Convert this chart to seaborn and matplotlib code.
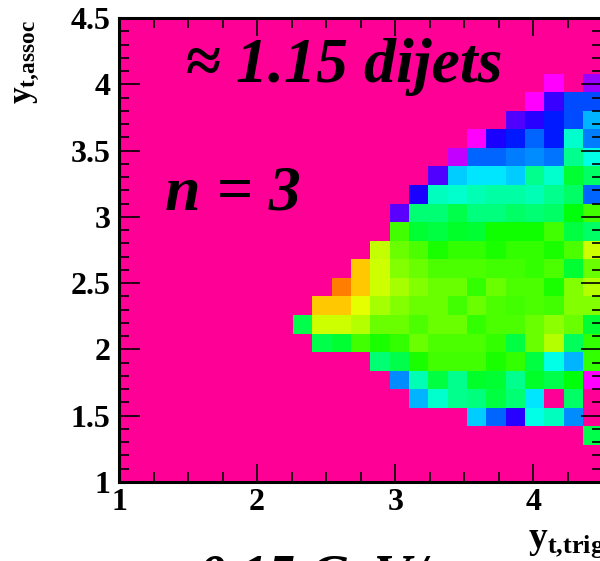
import numpy as np
import pandas as pd
import matplotlib
matplotlib.use('Agg')
import matplotlib.pyplot as plt
from matplotlib.colors import ListedColormap, hsv_to_rgb
import seaborn as sns

# y_t binning (same for trigger and associated axis)
yt_min, yt_max, n_bins = 1.0, 4.5, 25

# non-empty cells, one entry per y_t,assoc bin: first y_t,trig bin and the values after it
# (values on a 0-100 colour scale, 0 = magenta ... 100 = red; nan = empty bin)
row_index = list(range(2, 22))
row_start = [24, 18, 15, 14, 13, 10, 9, 10, 11, 12, 13, 14, 14, 15, 16, 17, 18, 20, 21, 22]
row_values = [
    [54],
    [36, 28, 17, 42, 45, 31],
    [34, 44, 49, 50, 55, 51, 38, np.nan, 52],
    [31, 46, 55, 49, 57, 56, 49, 57, 54, 59, 0],
    [51, 54, 62, 65, 65, 65, 62, 64, 55, 42, 34, 64],
    [54, 56, 65, 62, 64, 68, 66, 66, 66, 64, 55, 68, 74, 53, 64],
    [54, 76, 76, 74, 68, 68, 66, 68, 68, 64, 66, 66, 68, 71, 68, 56],
    [84, 84, 78, 73, 70, 68, 68, 65, 68, 66, 65, 66, 65, 70, 70],
    [90, 84, 76, 73, 70, 68, 68, 64, 68, 66, 66, 62, 70, 74],
    [84, 76, 70, 68, 66, 66, 66, 65, 65, 64, 66, 56, 68],
    [75, 68, 66, 62, 64, 64, 62, 64, 64, 62, 66, 76],
    [65, 56, 55, 57, 56, 61, 61, 61, 65, 55, 52],
    [13, 51, 51, 54, 50, 50, 52, 51, 52, 59, 65],
    [18, 45, 44, 46, 47, 47, 46, 49, 52, 28],
    [14, 36, 38, 38, 36, 49, 44, 56, 52],
    [5, 28, 28, 30, 31, 29, 49, 42],
    [0, 18, 22, 28, 22, 44, 30],
    [14, 17, 22, 26, 34],
    [0, 16, 26, 26],
    [0, np.nan, 8],
]

x_major = [1, 2, 3, 4]
x_major_labels = ['1', '2', '3', '4']
x_minor = [1.25, 1.5, 1.75, 2.25, 2.5, 2.75, 3.25, 3.5, 3.75, 4.25]
y_major = [1, 1.5, 2, 2.5, 3, 3.5, 4, 4.5]
y_major_labels = ['1', '1.5', '2', '2.5', '3', '3.5', '4', '4.5']
y_minor = [1.1, 1.2, 1.3, 1.4, 1.6, 1.7, 1.8, 1.9, 2.1, 2.2, 2.3, 2.4, 2.6, 2.7, 2.8, 2.9,
           3.1, 3.2, 3.3, 3.4, 3.6, 3.7, 3.8, 3.9, 4.1, 4.2, 4.3, 4.4]

plt.rcParams['font.family'] = ['Liberation Serif', 'DejaVu Serif']
plt.rcParams['font.weight'] = 'bold'
plt.rcParams['mathtext.fontset'] = 'custom'
plt.rcParams['mathtext.rm'] = 'Liberation Serif:bold'
plt.rcParams['mathtext.bf'] = 'Liberation Serif:bold'
plt.rcParams['mathtext.it'] = 'Liberation Serif:bold:italic'

grid = np.full((n_bins, n_bins), np.nan)
for j, start, vals in zip(row_index, row_start, row_values):
    grid[j, start:start + len(vals)] = vals
edges = np.round(np.linspace(yt_min, yt_max, n_bins + 1), 2)
df = pd.DataFrame(grid, index=edges[:-1], columns=edges[:-1])

# ROOT-like "pretty" palette: violet/magenta -> blue -> cyan -> green -> yellow -> red
hues = np.linspace(300, 0, 256) / 360
cmap = ListedColormap(hsv_to_rgb(np.column_stack([hues, np.ones(256), np.ones(256)])))

fig = plt.figure(figsize=(6, 5.61), dpi=100)
ax = fig.add_axes([0.1983, 0.1408, 0.8058, 0.8271])
ax.set_facecolor('#ff0096')
sns.heatmap(df, cmap=cmap, vmin=0, vmax=100, cbar=False, ax=ax,
            xticklabels=False, yticklabels=False)
ax.set_xlim(0, n_bins)
ax.set_ylim(0, n_bins)
ax.set_xlabel('')
ax.set_ylabel('')

bw = (yt_max - yt_min) / n_bins
def to_bin(v):
    return (np.asarray(v, dtype=float) - yt_min) / bw

ax.set_xticks(to_bin(x_major))
ax.set_xticklabels(x_major_labels)
ax.set_xticks(to_bin(x_minor), minor=True)
ax.set_yticks(to_bin(y_major))
ax.set_yticklabels(y_major_labels, rotation=0)
ax.set_yticks(to_bin(y_minor), minor=True)

ax.tick_params(which='both', direction='in', top=True, right=True, width=1.2,
               color='black', labelsize=23)
ax.tick_params(axis='y', which='major', length=15, pad=6)
ax.tick_params(axis='x', which='major', length=13, pad=4)
ax.tick_params(which='minor', length=7)
for s in ax.spines.values():
    s.set_visible(True)
    s.set_linewidth(2.2)
    s.set_color('black')

fig.text(0.045, 0.965, r'$\mathrm{y}_{\mathrm{t{,}assoc}}$', rotation=90,
         ha='center', va='top', fontsize=24)
fig.text(1.008, 1 - 548 / 561, r'$\mathrm{y}_{\mathrm{t{,}trig}}$',
         ha='right', va='baseline', fontsize=27)

big = dict(fontweight='bold', fontstyle='italic', ha='left', va='baseline', color='black')
fig.text(185 / 600, 1 - 82 / 561, '≈ 1.15 dijets', fontsize=46, **big)
fig.text(165 / 600, 1 - 210 / 561, 'n = 3', fontsize=46, **big)
fig.text(198 / 600, 1 - 594 / 561, '0.15 GeV/c', fontsize=40, **big)

fig.savefig('out.png', dpi=100)
